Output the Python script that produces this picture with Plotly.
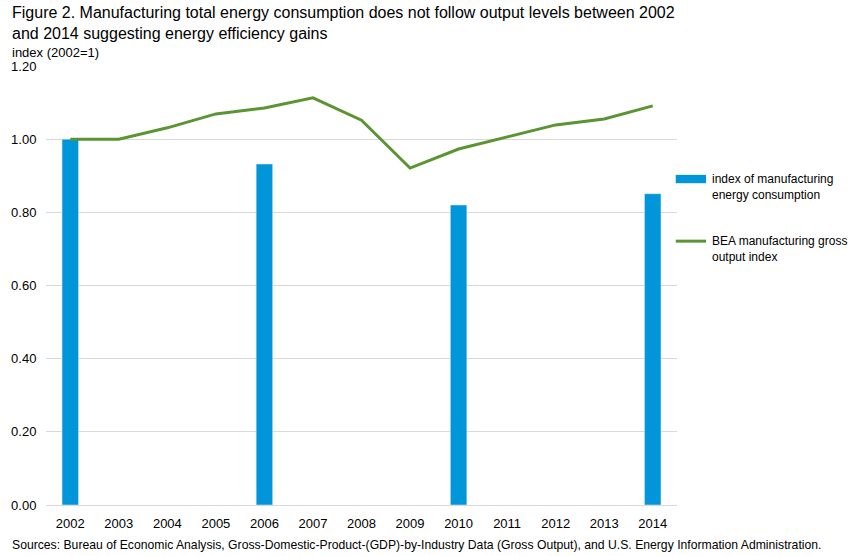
import plotly.graph_objects as go

years = ['2002', '2003', '2004', '2005', '2006', '2007', '2008',
         '2009', '2010', '2011', '2012', '2013', '2014']
energy_index = [1.00, None, None, None, 0.932, None, None,
                None, 0.820, None, None, None, 0.851]
output_index = [1.000, 1.000, 1.031, 1.069, 1.085, 1.113, 1.052,
                0.921, 0.973, 1.006, 1.039, 1.055, 1.091]
y_ticks = [0.0, 0.2, 0.4, 0.6, 0.8, 1.0, 1.2]

BLUE = '#0096d9'
GREEN = '#5b9532'
FONT = 'Liberation Sans, Arial, sans-serif'

fig = go.Figure()
fig.add_trace(go.Bar(x=years, y=energy_index, marker_color=BLUE,
                     width=0.34, name='index of manufacturing energy consumption',
                     showlegend=False))
fig.add_trace(go.Scatter(x=years, y=output_index, mode='lines',
                         line=dict(color=GREEN, width=3),
                         name='BEA manufacturing gross output index',
                         showlegend=False))

# legend drawn by hand to get the wide Excel-style keys
fig.add_shape(type='rect', xref='paper', yref='paper',
              x0=0.998, x1=1.046, y0=0.733, y1=0.752,
              fillcolor=BLUE, line_width=0)
fig.add_shape(type='line', xref='paper', yref='paper',
              x0=0.998, x1=1.046, y0=0.601, y1=0.601,
              line=dict(color=GREEN, width=3))
legend_font = dict(family=FONT, size=12, color='#000000')
fig.add_annotation(text='index of manufacturing<br>energy consumption',
                   xref='paper', yref='paper', x=1.052, y=0.724,
                   xanchor='left', yanchor='middle', align='left',
                   showarrow=False, font=legend_font)
fig.add_annotation(text='BEA manufacturing gross<br>output index',
                   xref='paper', yref='paper', x=1.052, y=0.583,
                   xanchor='left', yanchor='middle', align='left',
                   showarrow=False, font=legend_font)

fig.add_annotation(text='Figure 2. Manufacturing total energy consumption does not follow output levels between 2002'
                        '<br>and 2014 suggesting energy efficiency gains',
                   xref='paper', yref='paper', x=-0.057, y=1.146,
                   xanchor='left', yanchor='top', align='left', showarrow=False,
                   font=dict(family=FONT, size=16, color='#000000'))
fig.add_annotation(text='index (2002=1)', xref='paper', yref='paper',
                   x=-0.057, y=1.031, xanchor='left', yanchor='middle',
                   showarrow=False, font=dict(family=FONT, size=13, color='#000000'))
fig.add_annotation(text='Sources: Bureau of Economic Analysis, Gross-Domestic-Product-(GDP)-by-Industry Data '
                        '(Gross Output), and U.S. Energy Information Administration.',
                   xref='paper', yref='paper', x=-0.057, y=-0.091,
                   xanchor='left', yanchor='middle', showarrow=False,
                   font=dict(family=FONT, size=12.2, color='#000000'))

fig.update_layout(
    width=860, height=556,
    margin=dict(l=46, r=183, t=66, b=51),
    paper_bgcolor='white', plot_bgcolor='white',
    font=dict(family=FONT, size=13, color='#000000'),
    bargap=0.6,
)
fig.update_xaxes(type='category', showgrid=False, showline=True,
                 linecolor='#d9d9d9', linewidth=1,
                 ticks='outside', ticklen=6, tickcolor='white',
                 tickfont=dict(size=13))
fig.update_yaxes(range=[0, 1.2], tickvals=y_ticks, tickformat='.2f',
                 showgrid=True, gridcolor='#d9d9d9', gridwidth=1,
                 zeroline=False, showline=False,
                 ticks='outside', ticklen=6, tickcolor='white',
                 tickfont=dict(size=13))

fig.write_html('out.html', config={'displayModeBar': False},
               post_script="document.body.style.margin='0';document.body.style.overflow='hidden';")
